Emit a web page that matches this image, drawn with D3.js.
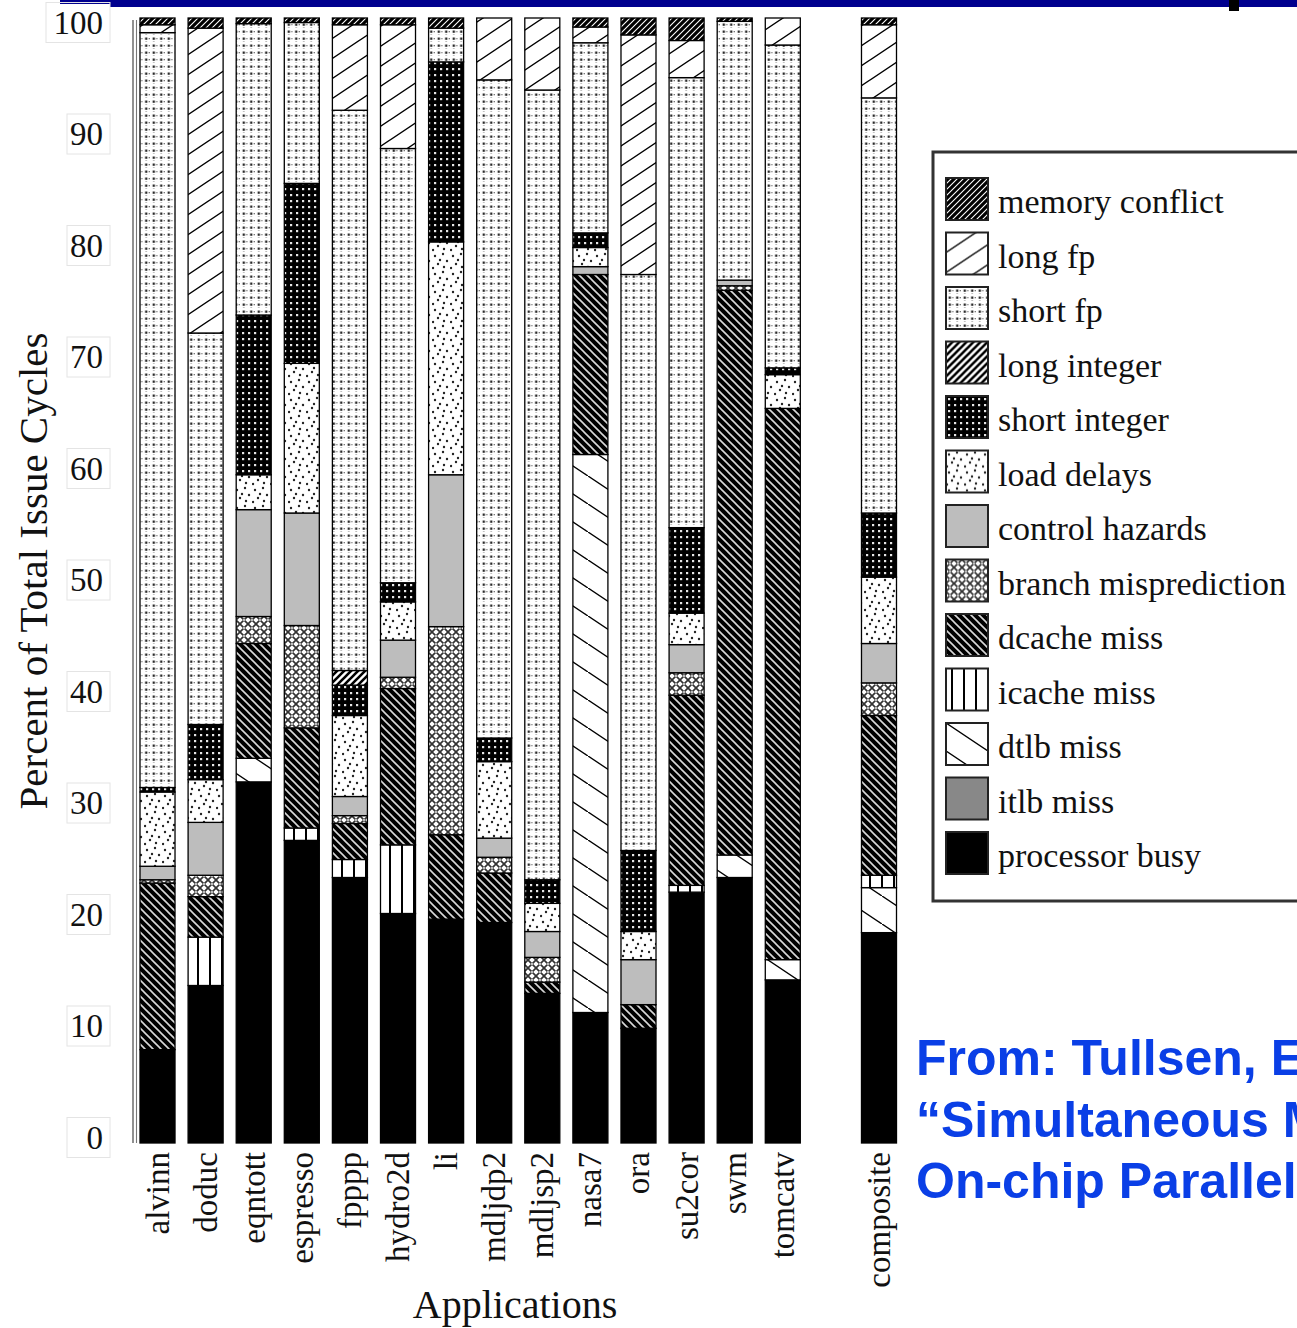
<!DOCTYPE html>
<html><head><meta charset="utf-8">
<script src="https://cdn.jsdelivr.net/npm/d3@7"></script>
<style>body{margin:0;background:#fff}svg{display:block}</style>
</head><body>
<svg id="c" width="1297" height="1328"></svg>
<script>
// ---------- data ----------
const apps = ["alvinn","doduc","eqntott","espresso","fpppp","hydro2d","li","mdljdp2","mdljsp2","nasa7","ora","su2cor","swm","tomcatv","composite"];
const yTicks = [0,10,20,30,40,50,60,70,80,90,100];
const processorBusy  = [8.3,14.0,32.1,26.9,23.6,20.4,19.9,19.6,13.3,11.6,10.2,22.3,23.6,14.5,18.7];
const itlbMiss       = [0,0,0,0,0,0,0,0,0,0,0,0,0,0,0];
const dtlbMiss       = [0,0,2.1,0,0,0,0,0,0,49.6,0,0,2.0,1.8,4.0];
const icacheMiss     = [0,4.3,0,1.1,1.6,6.1,0,0,0,0,0,0.6,0,0,1.1];
const dcacheMiss     = [14.8,3.6,10.2,8.9,3.2,13.9,7.5,4.4,1.0,16.0,2.1,16.9,50.2,49.0,14.2];
const branchMispred  = [0.3,1.9,2.4,9.1,0.7,1.0,18.5,1.4,2.2,0,0,2.0,0.4,0,2.9];
const controlHazards = [1.2,4.7,9.5,10.0,1.7,3.3,13.5,1.7,2.3,0.7,4.0,2.5,0.5,0,3.5];
const loadDelays     = [6.6,3.8,3.1,13.3,7.2,3.4,20.7,6.8,2.5,1.7,2.5,2.8,0,3.0,5.9];
const shortInteger   = [0.4,4.9,14.2,16.0,2.7,1.7,16.0,2.1,2.1,1.3,7.2,7.6,0,0.6,5.7];
const longInteger    = [0,0,0,0,1.3,0,0,0,0,0,0,0,0,0,0];
const shortFp        = [67.1,34.8,25.9,14.3,49.8,38.6,3.0,58.5,70.2,16.9,51.2,40.0,23.0,28.7,36.9];
const longFp         = [0.7,27.1,0,0,7.6,11.0,0,5.5,6.4,1.4,21.3,3.3,0,2.4,6.5];
const memoryConflict = [0.6,0.9,0.5,0.4,0.6,0.6,0.9,0,0,0.8,1.5,2.0,0.3,0,0.6];

const seriesNames = ["processor busy","itlb miss","dtlb miss","icache miss","dcache miss","branch misprediction","control hazards","load delays","short integer","long integer","short fp","long fp","memory conflict"];
const seriesVals = [processorBusy,itlbMiss,dtlbMiss,icacheMiss,dcacheMiss,branchMispred,controlHazards,loadDelays,shortInteger,longInteger,shortFp,longFp,memoryConflict];
const patternIds = ["pb","itlb","dt","ic","dc","bm","ch","ld","si","li","sf","lf","mc"];

// ---------- setup ----------
const svg = d3.select("#c");
svg.append("rect").attr("width",1297).attr("height",1328).attr("fill","#fff");
const defs = svg.append("defs");
function pattern(id,w,h,bg){
  const p = defs.append("pattern").attr("id",id).attr("patternUnits","userSpaceOnUse").attr("width",w).attr("height",h);
  p.append("rect").attr("width",w).attr("height",h).attr("fill",bg);
  return p;
}
let p;
pattern("pb",4,4,"#000");
pattern("itlb",4,4,"#888");
pattern("ch",4,4,"#bdbdbd");
p = pattern("mc",6,6,"#000");
p.append("path").attr("d","M0,6 L6,0 M-1,1 L1,-1 M5,7 L7,5").attr("stroke","#fff").attr("stroke-width",1.1);
p = pattern("lf",30,20,"#fff");
p.append("path").attr("d","M0,20 L30,0 M-3,2 L3,-2 M27,22 L33,18").attr("stroke","#000").attr("stroke-width",1.4);
p = pattern("sf",7.5,7,"#fff");
p.append("rect").attr("x",2.6).attr("y",2.5).attr("width",2.3).attr("height",2.3).attr("fill","#2a2a2a");
p.append("rect").attr("x",6.2).attr("y",3).attr("width",1.3).attr("height",1.3).attr("fill","#777");
p.append("rect").attr("x",3.1).attr("y",6.1).attr("width",1.3).attr("height",0.9).attr("fill","#999");
p = pattern("li",7,7,"#fff");
p.append("path").attr("d","M0,7 L7,0 M-1,1 L1,-1 M6,8 L8,6").attr("stroke","#000").attr("stroke-width",2.6);
p = pattern("si",6,6,"#000");
p.append("rect").attr("x",2).attr("y",2).attr("width",2.2).attr("height",2.2).attr("fill","#e6e6e6");
p = pattern("ld",18,18,"#fff");
[[3,4],[11,2],[15,9],[6,12],[12,15],[1,16],[8,8]].forEach(c=>p.append("circle").attr("cx",c[0]).attr("cy",c[1]).attr("r",1.2).attr("fill","#222"));
p = pattern("bm",8,8,"#fff");
p.append("path").attr("d","M0,0 L8,8 M8,0 L0,8").attr("stroke","#333").attr("stroke-width",1.7);
p.append("circle").attr("cx",4).attr("cy",4).attr("r",0.9).attr("fill","#fff");
p = pattern("dc",8,8,"#000");
p.append("path").attr("d","M0,0 L8,8 M-1,7 L1,9 M7,-1 L9,1").attr("stroke","#d8d8d8").attr("stroke-width",1.6);
p = pattern("ic",12,10,"#fff");
p.append("rect").attr("x",5).attr("y",0).attr("width",2).attr("height",10).attr("fill","#000");
p = pattern("dt",42,28,"#fff");
p.append("path").attr("d","M0,0 L42,28 M-3,-2 L3,2 M39,26 L45,30").attr("stroke","#000").attr("stroke-width",1.4);

// ---------- top decoration ----------
svg.append("rect").attr("x",60).attr("y",0).attr("width",60).attr("height",4).attr("fill","#00008e");
svg.append("rect").attr("x",110).attr("y",0).attr("width",1187).attr("height",7).attr("fill","#00008e");
svg.append("rect").attr("x",1229).attr("y",0).attr("width",10).attr("height",11).attr("fill","#000");

// ---------- scales ----------
const slots = apps.slice(0,14).concat(["__gap","composite"]);
const x = d3.scaleBand().domain(slots).range([140,896.5]).paddingInner(0.272).paddingOuter(0);
const y = d3.scaleLinear().domain([0,100]).range([1143,18]);
const yLab = d3.scaleLinear().domain([0,100]).range([1137,22]);

const keys = patternIds;
const rows = apps.map((a,i)=>{const r={app:a}; keys.forEach((k,j)=>r[k]=seriesVals[j][i]); return r;});
const stacked = d3.stack().keys(keys)(rows);

// ---------- bars ----------
const gBars = svg.append("g");
stacked.forEach((layer)=>{
  gBars.append("g").selectAll("rect").data(layer.filter(d=>d[1]-d[0]>0)).join("rect")
    .attr("x",d=>x(d.data.app)).attr("width",x.bandwidth())
    .attr("y",d=>y(d[1])).attr("height",d=>y(d[0])-y(d[1]))
    .attr("fill",`url(#${layer.key})`).attr("stroke","#000").attr("stroke-width",1.3);
});

// ---------- y axis ----------
svg.append("line").attr("x1",133).attr("x2",133).attr("y1",y(100)+2).attr("y2",y(0)).attr("stroke","#555").attr("stroke-width",1.3);
svg.append("line").attr("x1",136.5).attr("x2",136.5).attr("y1",y(100)+2).attr("y2",y(0)).attr("stroke","#777").attr("stroke-width",1.1);
const gY = svg.append("g").attr("transform","translate(103,0)")
  .call(d3.axisLeft(yLab).tickValues(yTicks).tickSize(0).tickPadding(0));
gY.select(".domain").remove();
gY.selectAll(".tick").insert("rect","text").attr("x",d=>d===100?-57:-36).attr("y",-20).attr("width",d=>d===100?64:43).attr("height",40)
  .attr("fill","none").attr("stroke","#e4e4e4").attr("stroke-width",1);
gY.selectAll("text").attr("font-family","Liberation Serif, serif").attr("font-size",33).attr("fill","#111").attr("dy","0.34em");

svg.append("text").attr("transform","translate(47,571) rotate(-90)").attr("text-anchor","middle")
  .attr("font-family","Liberation Serif, serif").attr("font-size",41).attr("fill","#111").text("Percent of Total Issue Cycles");

// ---------- x axis ----------
const gX = svg.append("g").attr("transform",`translate(0,${y(0)})`)
  .call(d3.axisBottom(x).tickSize(0).tickFormat(d=>d==="__gap"?"":d));
gX.select(".domain").remove();
gX.selectAll("text").attr("transform","translate(11,9) rotate(-90)").attr("x",0).attr("y",0).attr("dy",0)
  .style("text-anchor","end").attr("font-family","Liberation Serif, serif").attr("font-size",33).attr("fill","#111");

svg.append("text").attr("x",515).attr("y",1318).attr("text-anchor","middle")
  .attr("font-family","Liberation Serif, serif").attr("font-size",40).attr("fill","#111").text("Applications");

// ---------- legend ----------
const lg = svg.append("g");
lg.append("rect").attr("x",933).attr("y",152).attr("width",420).attr("height",749).attr("fill","#fff").attr("stroke","#333").attr("stroke-width",3);
const legendItems = seriesNames.map((n,i)=>({name:n,id:patternIds[i]})).reverse();
const li = lg.selectAll("g.item").data(legendItems).join("g").attr("class","item")
  .attr("transform",(d,i)=>`translate(946,${178+i*54.5})`);
li.append("rect").attr("width",42).attr("height",42).attr("fill",d=>`url(#${d.id})`).attr("stroke","#222").attr("stroke-width",2);
li.append("text").attr("x",52).attr("y",35).attr("font-family","Liberation Serif, serif").attr("font-size",34).attr("fill","#111").text(d=>d.name);

// ---------- source note ----------
const note = ["From: Tullsen, Eggers, and Levy,","\u201cSimultaneous Multithreading: Maximizing","On-chip Parallelism, ISCA 1995."];
svg.append("g").selectAll("text").data(note).join("text")
  .attr("x",916).attr("y",(d,i)=>1075+i*61.5)
  .attr("font-family","Liberation Sans, Arial, sans-serif").attr("font-weight","bold").attr("font-size",50).attr("fill","#0a3fe6").text(d=>d);
</script>
</body></html>
